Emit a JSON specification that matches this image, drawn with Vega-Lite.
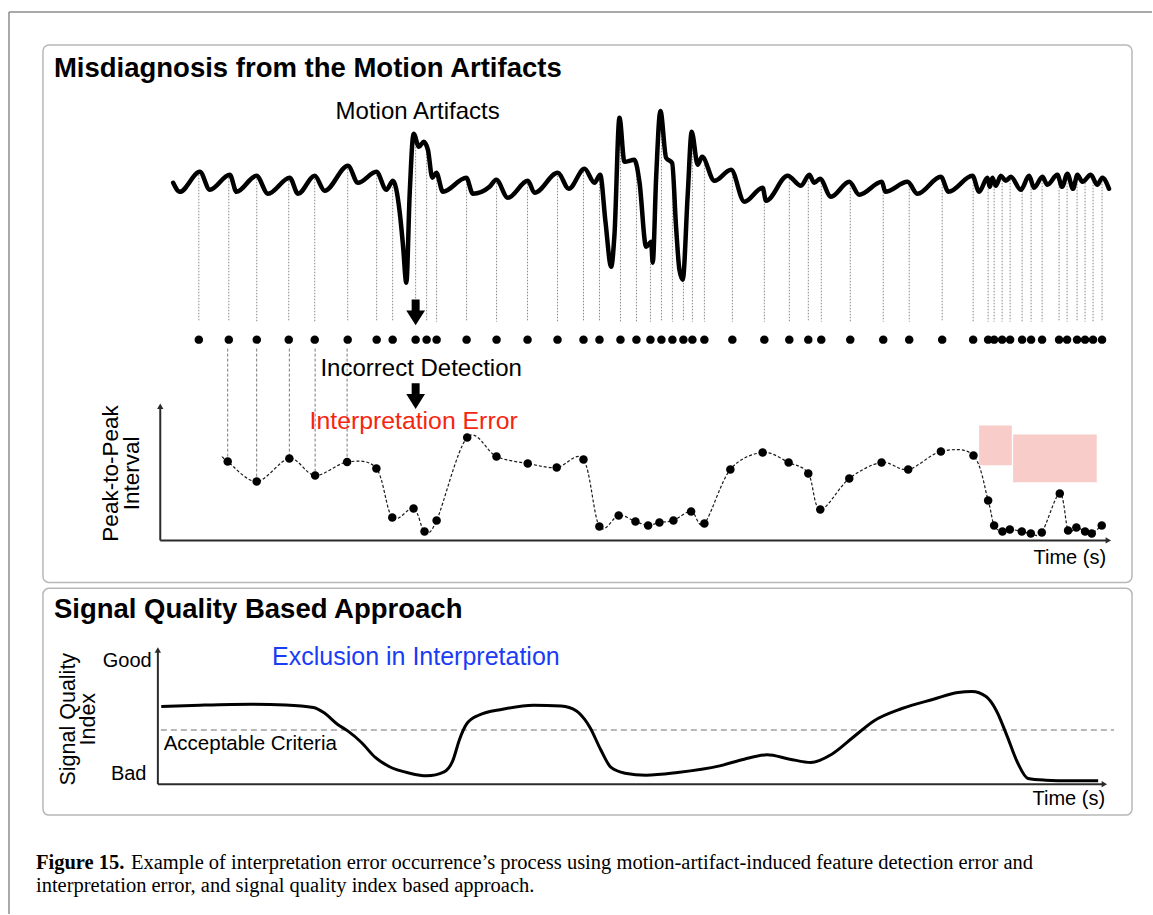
{
  "$schema": "https://vega.github.io/schema/vega-lite/v6.json",
  "width": 1153,
  "height": 915,
  "padding": 0,
  "autosize": {"type": "fit", "contains": "padding"},
  "background": "white",
  "config": {"view": {"stroke": null}},
  "datasets": {
    "frame": [
      {"t": -15.1, "t2": 99.3, "yp": 1.31, "yp2": 1.31},
      {"t": -15.1, "t2": -15.1, "yp": 1.31, "yp2": 100}
    ],
    "panels": [
      {"t": -11.7, "t2": 97.3, "yp": 4.92, "yp2": 63.72},
      {"t": -11.7, "t2": 97.3, "yp": 64.37, "yp2": 89.18}
    ],
    "titles": [
      {"t": -10.6, "yp": 7.54, "label": "Misdiagnosis from the Motion Artifacts"},
      {"t": -10.6, "yp": 66.78, "label": "Signal Quality Based Approach"}
    ],
    "captionBold": [
      {"t": -12.4, "yp": 95.08, "label": "Figure 15."}
    ],
    "caption": [
      {"t": -2.9, "yp": 95.08, "label": "Example of interpretation error occurrence’s process using motion-artifact-induced feature detection error and"},
      {"t": -12.4, "yp": 97.55, "label": "interpretation error, and signal quality index based approach."}
    ],
    "signal": [
      {"t": 1.33, "a": 0.17}, {"t": 2.0, "a": 0.08}, {"t": 4.0, "a": 0.28}, {"t": 5.0, "a": 0.10},
      {"t": 7.0, "a": 0.25}, {"t": 7.67, "a": 0.08}, {"t": 9.67, "a": 0.24}, {"t": 10.83, "a": 0.06},
      {"t": 13.0, "a": 0.22}, {"t": 13.83, "a": 0.06}, {"t": 15.5, "a": 0.24}, {"t": 16.5, "a": 0.09},
      {"t": 18.83, "a": 0.34}, {"t": 19.83, "a": 0.17}, {"t": 21.67, "a": 0.28}, {"t": 22.67, "a": 0.10},
      {"t": 23.33, "a": 0.19}, {"t": 24.0, "a": -0.12}, {"t": 24.33, "a": -0.45}, {"t": 24.67, "a": -0.83},
      {"t": 25.0, "a": 0.05}, {"t": 25.4, "a": 0.66}, {"t": 25.93, "a": 0.53}, {"t": 26.4, "a": 0.58},
      {"t": 26.83, "a": 0.50}, {"t": 27.27, "a": 0.22}, {"t": 27.67, "a": 0.27}, {"t": 28.33, "a": 0.08},
      {"t": 30.67, "a": 0.22}, {"t": 31.33, "a": 0.06}, {"t": 33.0, "a": 0.13}, {"t": 33.67, "a": 0.20},
      {"t": 34.83, "a": 0.02}, {"t": 36.83, "a": 0.19}, {"t": 37.5, "a": 0.07}, {"t": 39.83, "a": 0.27},
      {"t": 40.93, "a": 0.11}, {"t": 42.5, "a": 0.31}, {"t": 43.5, "a": 0.17}, {"t": 44.07, "a": 0.25},
      {"t": 44.6, "a": -0.22}, {"t": 45.17, "a": -0.67}, {"t": 45.5, "a": -0.35}, {"t": 46.0, "a": 0.82},
      {"t": 46.5, "a": 0.38}, {"t": 47.5, "a": 0.40}, {"t": 48.0, "a": 0.18}, {"t": 48.67, "a": -0.47},
      {"t": 49.17, "a": -0.42}, {"t": 49.33, "a": -0.63}, {"t": 49.67, "a": 0.22}, {"t": 50.1, "a": 0.89},
      {"t": 50.67, "a": 0.42}, {"t": 51.27, "a": 0.37}, {"t": 51.67, "a": -0.28}, {"t": 52.0, "a": -0.70},
      {"t": 52.33, "a": -0.80}, {"t": 52.83, "a": 0.05}, {"t": 53.23, "a": 0.68}, {"t": 53.83, "a": 0.35},
      {"t": 54.27, "a": 0.43}, {"t": 55.5, "a": 0.19}, {"t": 57.17, "a": 0.30}, {"t": 58.5, "a": -0.02},
      {"t": 60.33, "a": 0.12}, {"t": 60.67, "a": -0.01}, {"t": 62.83, "a": 0.24}, {"t": 64.17, "a": 0.14},
      {"t": 65.0, "a": 0.25}, {"t": 65.5, "a": 0.17}, {"t": 66.07, "a": 0.21}, {"t": 67.17, "a": 0.03},
      {"t": 69.0, "a": 0.18}, {"t": 70.0, "a": 0.05}, {"t": 72.27, "a": 0.18}, {"t": 72.6, "a": 0.08},
      {"t": 74.83, "a": 0.18}, {"t": 75.83, "a": 0.06}, {"t": 78.17, "a": 0.23}, {"t": 78.93, "a": 0.08},
      {"t": 81.33, "a": 0.24}, {"t": 82.0, "a": 0.08}, {"t": 82.83, "a": 0.22}, {"t": 83.07, "a": 0.13},
      {"t": 83.33, "a": 0.22}, {"t": 83.67, "a": 0.14}, {"t": 84.17, "a": 0.24}, {"t": 84.67, "a": 0.19},
      {"t": 85.17, "a": 0.23}, {"t": 86.17, "a": 0.10}, {"t": 87.0, "a": 0.24}, {"t": 87.5, "a": 0.12},
      {"t": 88.33, "a": 0.23}, {"t": 88.83, "a": 0.15}, {"t": 89.83, "a": 0.25}, {"t": 90.3, "a": 0.13},
      {"t": 90.83, "a": 0.26}, {"t": 91.4, "a": 0.11}, {"t": 91.83, "a": 0.25}, {"t": 92.33, "a": 0.18},
      {"t": 93.17, "a": 0.25}, {"t": 93.83, "a": 0.15}, {"t": 94.33, "a": 0.22}, {"t": 95.0, "a": 0.11}
    ],
    "peaks": [
      {"t": 3.9, "a": 0.28}, {"t": 6.9, "a": 0.25}, {"t": 9.7, "a": 0.24}, {"t": 12.9, "a": 0.22},
      {"t": 15.5, "a": 0.24}, {"t": 18.8, "a": 0.34}, {"t": 21.7, "a": 0.28}, {"t": 23.3, "a": 0.19},
      {"t": 25.6, "a": 0.62}, {"t": 26.7, "a": 0.52}, {"t": 27.7, "a": 0.26}, {"t": 30.7, "a": 0.22},
      {"t": 33.7, "a": 0.2}, {"t": 36.8, "a": 0.19}, {"t": 39.8, "a": 0.27}, {"t": 42.4, "a": 0.31},
      {"t": 44.0, "a": 0.25}, {"t": 46.1, "a": 0.75}, {"t": 47.7, "a": 0.3}, {"t": 49.1, "a": -0.4},
      {"t": 50.2, "a": 0.85}, {"t": 51.3, "a": 0.35}, {"t": 52.4, "a": -0.5}, {"t": 53.3, "a": 0.65},
      {"t": 54.5, "a": 0.35}, {"t": 57.3, "a": 0.29}, {"t": 60.5, "a": 0.05}, {"t": 63.0, "a": 0.24},
      {"t": 64.9, "a": 0.25}, {"t": 66.2, "a": 0.2}, {"t": 69.1, "a": 0.18}, {"t": 72.4, "a": 0.17},
      {"t": 75.0, "a": 0.17}, {"t": 78.3, "a": 0.22}, {"t": 81.4, "a": 0.24}, {"t": 82.9, "a": 0.2},
      {"t": 83.5, "a": 0.2}, {"t": 84.3, "a": 0.23}, {"t": 85.1, "a": 0.23}, {"t": 86.3, "a": 0.12},
      {"t": 87.2, "a": 0.23}, {"t": 88.3, "a": 0.23}, {"t": 90.0, "a": 0.25}, {"t": 90.8, "a": 0.26},
      {"t": 91.8, "a": 0.25}, {"t": 92.6, "a": 0.2}, {"t": 93.4, "a": 0.24}, {"t": 94.3, "a": 0.22}
    ],
    "links": [
      {"t": 6.79, "a": -1.49, "a2": -2.62},
      {"t": 9.69, "a": -1.49, "a2": -2.82},
      {"t": 12.96, "a": -1.49, "a2": -2.59},
      {"t": 15.54, "a": -1.49, "a2": -2.76},
      {"t": 18.74, "a": -1.49, "a2": -2.63}
    ],
    "arrows": [
      {"t": 25.6, "a": -1.128},
      {"t": 25.6, "a": -1.965}
    ],
    "signalNotes": [
      {"t": 25.8, "a": 0.88, "label": "Motion Artifacts"},
      {"t": 26.15, "a": -1.69, "label": "Incorrect Detection"}
    ],
    "ppi": [
      {"t": 6.24, "v": 0.84},
      {"t": 6.79, "v": 0.79}, {"t": 9.69, "v": 0.59}, {"t": 12.96, "v": 0.82}, {"t": 15.54, "v": 0.65},
      {"t": 18.74, "v": 0.785}, {"t": 21.67, "v": 0.72}, {"t": 23.26, "v": 0.23}, {"t": 25.39, "v": 0.32},
      {"t": 26.49, "v": 0.09}, {"t": 27.7, "v": 0.20}, {"t": 30.76, "v": 1.03}, {"t": 33.69, "v": 0.84},
      {"t": 36.82, "v": 0.77}, {"t": 39.72, "v": 0.73}, {"t": 42.4, "v": 0.81}, {"t": 43.99, "v": 0.14},
      {"t": 45.92, "v": 0.25}, {"t": 47.6, "v": 0.19}, {"t": 48.87, "v": 0.15}, {"t": 50.0, "v": 0.18},
      {"t": 51.4, "v": 0.20}, {"t": 53.17, "v": 0.29}, {"t": 54.5, "v": 0.17}, {"t": 57.1, "v": 0.71},
      {"t": 60.33, "v": 0.88}, {"t": 62.93, "v": 0.78}, {"t": 64.9, "v": 0.67}, {"t": 66.1, "v": 0.31},
      {"t": 69.0, "v": 0.62}, {"t": 72.23, "v": 0.78}, {"t": 74.9, "v": 0.71}, {"t": 78.17, "v": 0.89},
      {"t": 81.43, "v": 0.85}, {"t": 82.9, "v": 0.40}, {"t": 83.5, "v": 0.15}, {"t": 84.33, "v": 0.09},
      {"t": 85.07, "v": 0.11}, {"t": 86.27, "v": 0.09}, {"t": 87.17, "v": 0.07}, {"t": 88.27, "v": 0.08},
      {"t": 90.07, "v": 0.47}, {"t": 90.9, "v": 0.10}, {"t": 91.73, "v": 0.13}, {"t": 92.6, "v": 0.09},
      {"t": 93.27, "v": 0.07}, {"t": 94.27, "v": 0.15}
    ],
    "flags": [
      {"t": 82.0, "t2": 85.27, "v": 0.753, "v2": 1.15},
      {"t": 85.4, "t2": 93.77, "v": 0.583, "v2": 1.06}
    ],
    "ppiAxes": [
      {"t": 0.04, "t2": 0.04, "v": 0, "v2": 1.33},
      {"t": 0.04, "t2": 94.8, "v": 0, "v2": 0}
    ],
    "sqi": [
      {"t": 0.14, "q": 0.777}, {"t": 4.0, "q": 0.79}, {"t": 9.16, "q": 0.80}, {"t": 12.6, "q": 0.793},
      {"t": 15.36, "q": 0.767}, {"t": 16.4, "q": 0.717}, {"t": 17.77, "q": 0.60}, {"t": 18.8, "q": 0.533},
      {"t": 20.18, "q": 0.417}, {"t": 21.56, "q": 0.267}, {"t": 22.94, "q": 0.177}, {"t": 25.0, "q": 0.11},
      {"t": 26.73, "q": 0.083}, {"t": 28.45, "q": 0.123}, {"t": 29.31, "q": 0.233}, {"t": 30.0, "q": 0.45},
      {"t": 30.69, "q": 0.60}, {"t": 31.9, "q": 0.69}, {"t": 34.3, "q": 0.75}, {"t": 37.4, "q": 0.79},
      {"t": 40.16, "q": 0.783}, {"t": 41.7, "q": 0.733}, {"t": 42.5, "q": 0.65}, {"t": 43.05, "q": 0.567},
      {"t": 44.1, "q": 0.35}, {"t": 45.16, "q": 0.167}, {"t": 46.56, "q": 0.11}, {"t": 48.66, "q": 0.09},
      {"t": 51.82, "q": 0.117}, {"t": 56.03, "q": 0.183}, {"t": 58.49, "q": 0.25}, {"t": 60.77, "q": 0.293},
      {"t": 63.05, "q": 0.25}, {"t": 65.15, "q": 0.217}, {"t": 67.25, "q": 0.30}, {"t": 69.36, "q": 0.467},
      {"t": 71.46, "q": 0.633}, {"t": 74.27, "q": 0.757}, {"t": 77.43, "q": 0.85}, {"t": 79.88, "q": 0.917},
      {"t": 81.28, "q": 0.927}, {"t": 82.69, "q": 0.877}, {"t": 83.74, "q": 0.733}, {"t": 84.79, "q": 0.483},
      {"t": 85.84, "q": 0.217}, {"t": 86.9, "q": 0.057}, {"t": 88.65, "q": 0.04}, {"t": 91.1, "q": 0.033},
      {"t": 93.91, "q": 0.033}
    ],
    "sqiAxes": [
      {"t": -0.2, "t2": -0.2, "q": 0, "q2": 1.33},
      {"t": -0.2, "t2": 94.5, "q": 0, "q2": 0}
    ],
    "criteria": [
      {"t": 0.1, "t2": 95.5, "q": 0.543}
    ]
  },
  "encoding": {
    "x": {"field": "t", "type": "quantitative", "scale": {"domain": [-16, 99.3], "nice": false, "zero": false}, "axis": null}
  },
  "resolve": {"scale": {"y": "independent"}},
  "layer": [
    {
      "encoding": {"y": {"field": "yp", "type": "quantitative", "scale": {"domain": [0, 100], "reverse": true, "nice": false, "zero": false}, "axis": null}},
      "layer": [
        {"data": {"name": "frame"}, "mark": {"type": "rule", "color": "#8c8c8c", "strokeWidth": 1.5}, "encoding": {"x2": {"field": "t2"}, "y2": {"field": "yp2"}}},
        {"data": {"name": "panels"}, "mark": {"type": "rect", "fill": "white", "stroke": "#b8b8b8", "strokeWidth": 1.5, "cornerRadius": 6}, "encoding": {"x2": {"field": "t2"}, "y2": {"field": "yp2"}}},
        {"data": {"name": "titles"}, "mark": {"type": "text", "font": "Liberation Sans", "fontSize": 27.5, "fontWeight": "bold", "align": "left", "baseline": "middle", "color": "#000000"}, "encoding": {"text": {"field": "label"}}},
        {"data": {"name": "captionBold"}, "mark": {"type": "text", "font": "Liberation Serif", "fontSize": 20.5, "fontWeight": "bold", "align": "left", "baseline": "alphabetic", "color": "#000000"}, "encoding": {"text": {"field": "label"}}},
        {"data": {"name": "caption"}, "mark": {"type": "text", "font": "Liberation Serif", "fontSize": 20.5, "align": "left", "baseline": "alphabetic", "color": "#000000"}, "encoding": {"text": {"field": "label"}}}
      ]
    },
    {
      "encoding": {"y": {"field": "a", "type": "quantitative", "scale": {"domain": [-7.15, 2.0], "nice": false, "zero": false}, "axis": null}},
      "layer": [
        {"data": {"name": "peaks"}, "mark": {"type": "rule", "color": "#888888", "strokeWidth": 1, "strokeDash": [1.5, 1.5]}, "encoding": {"y2": {"datum": -1.22}}},
        {"data": {"name": "links"}, "mark": {"type": "rule", "color": "#7a7a7a", "strokeWidth": 1, "strokeDash": [3, 2]}, "encoding": {"y2": {"field": "a2"}}},
        {"data": {"name": "signal"}, "mark": {"type": "line", "color": "#000000", "strokeWidth": 4.5, "interpolate": "monotone", "strokeCap": "round", "strokeJoin": "round"}, "encoding": {}},
        {"data": {"name": "peaks"}, "mark": {"type": "point", "filled": true, "color": "#000000", "size": 72, "opacity": 1}, "encoding": {"y": {"datum": -1.4}}},
        {"data": {"name": "arrows"}, "mark": {"type": "point", "filled": true, "color": "#000000", "opacity": 1, "size": 660, "shape": "M-0.31,-1L0.31,-1L0.31,-0.16L0.73,-0.16L0,1L-0.73,-0.16L-0.31,-0.16Z"}},
        {"data": {"name": "signalNotes"}, "mark": {"type": "text", "font": "Liberation Sans", "fontSize": 24, "align": "center", "baseline": "middle", "color": "#000000"}, "encoding": {"text": {"field": "label"}}}
      ]
    },
    {
      "encoding": {"y": {"field": "v", "type": "quantitative", "scale": {"domain": [-3.74, 5.41], "nice": false, "zero": false}, "axis": null}},
      "layer": [
        {"data": {"name": "flags"}, "mark": {"type": "rect", "color": "#f8ccc8", "opacity": 1}, "encoding": {"x2": {"field": "t2"}, "y2": {"field": "v2"}}},
        {"data": {"name": "ppiAxes"}, "mark": {"type": "rule", "color": "#2b2b2b", "strokeWidth": 2}, "encoding": {"x2": {"field": "t2"}, "y2": {"field": "v2"}}},
        {"data": {"values": [{"t": 0.04, "v": 1.343}]}, "mark": {"type": "point", "shape": "triangle-up", "filled": true, "color": "#2b2b2b", "opacity": 1, "size": 40}},
        {"data": {"values": [{"t": 94.93, "v": 0}]}, "mark": {"type": "point", "shape": "triangle-right", "filled": true, "color": "#2b2b2b", "opacity": 1, "size": 40}},
        {"data": {"name": "ppi"}, "mark": {"type": "line", "color": "#1a1a1a", "strokeWidth": 1.2, "strokeDash": [3, 2], "interpolate": "cardinal"}, "encoding": {}},
        {"data": {"name": "ppi"}, "transform": [{"filter": "datum.t > 6.5"}], "mark": {"type": "point", "filled": true, "color": "#000000", "size": 72, "opacity": 1}},
        {"data": {"values": [{"t": 25.4, "v": 1.19, "label": "Interpretation Error"}]}, "mark": {"type": "text", "font": "Liberation Sans", "fontSize": 24.8, "align": "center", "baseline": "middle", "color": "#f5260f"}, "encoding": {"text": {"field": "label"}}},
        {"data": {"values": [{"t": 94.7, "v": -0.173, "label": "Time (s)"}]}, "mark": {"type": "text", "font": "Liberation Sans", "fontSize": 20, "align": "right", "baseline": "middle", "color": "#000000"}, "encoding": {"text": {"field": "label"}}},
        {"data": {"values": [{"t": -4.85, "v": 0.67, "label": "Peak-to-Peak\nInterval"}]}, "mark": {"type": "text", "font": "Liberation Sans", "fontSize": 22.5, "lineHeight": 21, "lineBreak": "\n", "angle": 270, "align": "center", "baseline": "middle", "color": "#000000"}, "encoding": {"text": {"field": "label"}}}
      ]
    },
    {
      "encoding": {"y": {"field": "q", "type": "quantitative", "scale": {"domain": [-1.30, 7.85], "nice": false, "zero": false}, "axis": null}},
      "layer": [
        {"data": {"name": "criteria"}, "mark": {"type": "rule", "color": "#a0a0a0", "strokeWidth": 1.5, "strokeDash": [6, 4]}, "encoding": {"x2": {"field": "t2"}}},
        {"data": {"name": "sqiAxes"}, "mark": {"type": "rule", "color": "#2b2b2b", "strokeWidth": 2}, "encoding": {"x2": {"field": "t2"}, "y2": {"field": "q2"}}},
        {"data": {"values": [{"t": -0.2, "q": 1.343}]}, "mark": {"type": "point", "shape": "triangle-up", "filled": true, "color": "#2b2b2b", "opacity": 1, "size": 40}},
        {"data": {"values": [{"t": 94.53, "q": 0}]}, "mark": {"type": "point", "shape": "triangle-right", "filled": true, "color": "#2b2b2b", "opacity": 1, "size": 40}},
        {"data": {"name": "sqi"}, "mark": {"type": "line", "color": "#000000", "strokeWidth": 3, "interpolate": "monotone"}, "encoding": {}},
        {"data": {"values": [{"t": -0.82, "q": 1.235, "label": "Good"}, {"t": -1.34, "q": 0.10, "label": "Bad"}, {"t": 94.6, "q": -0.15, "label": "Time (s)"}]}, "mark": {"type": "text", "font": "Liberation Sans", "fontSize": 20, "align": "right", "baseline": "middle", "color": "#000000"}, "encoding": {"text": {"field": "label"}}},
        {"data": {"values": [{"t": 0.38, "q": 0.40, "label": "Acceptable Criteria"}]}, "mark": {"type": "text", "font": "Liberation Sans", "fontSize": 20.5, "align": "left", "baseline": "middle", "color": "#000000"}, "encoding": {"text": {"field": "label"}}},
        {"data": {"values": [{"t": 11.23, "q": 1.27, "label": "Exclusion in Interpretation"}]}, "mark": {"type": "text", "font": "Liberation Sans", "fontSize": 25, "align": "left", "baseline": "middle", "color": "#1a3cf5"}, "encoding": {"text": {"field": "label"}}},
        {"data": {"values": [{"t": -9.1, "q": 0.65, "label": "Signal Quality\nIndex"}]}, "mark": {"type": "text", "font": "Liberation Sans", "fontSize": 21.5, "lineHeight": 20, "lineBreak": "\n", "angle": 270, "align": "center", "baseline": "middle", "color": "#000000"}, "encoding": {"text": {"field": "label"}}}
      ]
    }
  ]
}
